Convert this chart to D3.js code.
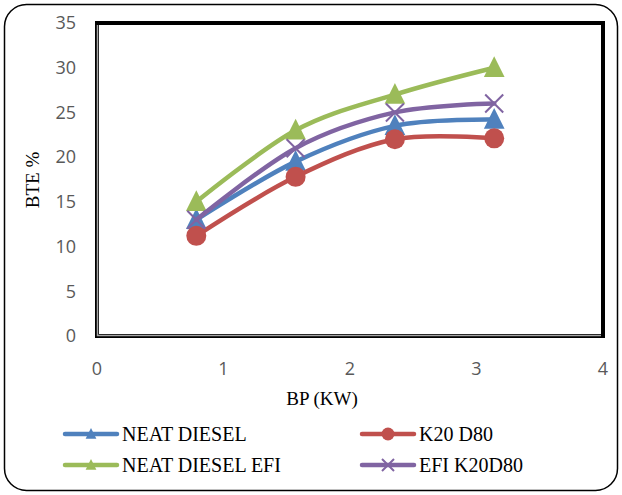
<!DOCTYPE html>
<html lang="en">
<head>
<meta charset="UTF-8">
<title>BTE vs BP</title>
<script src="https://d3js.org/d3.v7.min.js"></script>
<style>
  body { margin: 0; background: #fff; }
  .tick-label { font-family: 'Open Sans', 'Liberation Sans', sans-serif; font-size: 18px; fill: #595959; }
  .axis-title { font-family: 'Liberation Serif', 'DejaVu Serif', serif; font-size: 19px; fill: #000; }
  .legend-text { font-family: 'Liberation Serif', 'DejaVu Serif', serif; font-size: 20px; fill: #000; }
</style>
</head>
<body>
<svg id="chart" width="622" height="495"></svg>
<script>
  // data
  const bp = [0.785, 1.57, 2.355, 3.14];
  const neatDiesel = [13.0, 19.5, 23.5, 24.2];
  const k20d80 = [11.2, 17.8, 22.0, 22.1];
  const neatDieselEfi = [15.0, 23.0, 27.0, 30.0];
  const efiK20d80 = [13.0, 21.0, 25.0, 26.0];
  const xTicks = [0, 1, 2, 3, 4];
  const yTicks = [0, 5, 10, 15, 20, 25, 30, 35];

  const series = [
    { name: "NEAT DIESEL", values: neatDiesel, color: "#4F81BD", marker: "triangle" },
    { name: "K20 D80", values: k20d80, color: "#C0504D", marker: "circle" },
    { name: "NEAT DIESEL EFI", values: neatDieselEfi, color: "#9BBB59", marker: "triangle" },
    { name: "EFI K20D80", values: efiK20d80, color: "#8064A2", marker: "cross" }
  ];

  const svg = d3.select("#chart");

  // outer rounded frame
  svg.append("rect")
    .attr("x", 4.5).attr("y", 4.5)
    .attr("width", 613).attr("height", 486)
    .attr("rx", 22)
    .attr("fill", "#fff")
    .attr("stroke", "#000")
    .attr("stroke-width", 1.5);

  const x = d3.scaleLinear().domain([0, 4]).range([97, 603]);
  const y = d3.scaleLinear().domain([0, 35]).range([336, 23]);

  // plot box: thick black border with grey inner edge on left/bottom
  svg.append("rect")
    .attr("x", x(0)).attr("y", y(35))
    .attr("width", x(4) - x(0)).attr("height", y(0) - y(35))
    .attr("fill", "none")
    .attr("stroke", "#000")
    .attr("stroke-width", 4);
  svg.append("path")
    .attr("d", `M${x(0) + 0.5},${y(35) + 2} V${y(0) - 0.5} H${x(4) - 2}`)
    .attr("fill", "none")
    .attr("stroke", "#a6a6a6")
    .attr("stroke-width", 1.5);

  // tick labels
  svg.selectAll(".ylab").data(yTicks).enter().append("text")
    .attr("class", "tick-label")
    .attr("x", 76)
    .attr("y", d => y(d))
    .attr("dy", "0.35em")
    .attr("text-anchor", "end")
    .text(d => d);

  svg.selectAll(".xlab").data(xTicks).enter().append("text")
    .attr("class", "tick-label")
    .attr("x", d => x(d))
    .attr("y", 375)
    .attr("text-anchor", "middle")
    .text(d => d);

  // axis titles
  svg.append("text")
    .attr("class", "axis-title")
    .attr("x", 322).attr("y", 405)
    .attr("text-anchor", "middle")
    .text("BP (KW)");

  svg.append("text")
    .attr("class", "axis-title")
    .attr("transform", "translate(39,180) rotate(-90)")
    .attr("text-anchor", "middle")
    .text("BTE %");

  const line = d3.line()
    .x(d => x(d[0]))
    .y(d => y(d[1]))
    .curve(d3.curveCardinal.tension(0));

  function drawMarker(g, type, color, cx, cy, s) {
    if (type === "triangle") {
      g.append("path")
        .attr("d", `M${cx},${cy - s} L${cx + s * 0.9},${cy + s * 0.8} L${cx - s * 0.9},${cy + s * 0.8} Z`)
        .attr("fill", color);
    } else if (type === "circle") {
      g.append("circle").attr("cx", cx).attr("cy", cy).attr("r", s).attr("fill", color);
    } else {
      g.append("path")
        .attr("d", `M${cx - s},${cy - s} L${cx + s},${cy + s} M${cx - s},${cy + s} L${cx + s},${cy - s}`)
        .attr("stroke", color)
        .attr("stroke-width", 2);
    }
  }

  const markerSize = { triangle: 11.5, circle: 10, cross: 9 };

  series.forEach(s => {
    const pts = bp.map((b, i) => [b, s.values[i]]);
    const g = svg.append("g");
    g.append("path")
      .attr("d", line(pts))
      .attr("fill", "none")
      .attr("stroke", s.color)
      .attr("stroke-width", 4.5)
      .attr("stroke-linecap", "round");
    pts.forEach(p => drawMarker(g, s.marker, s.color, x(p[0]), y(p[1]), markerSize[s.marker]));
  });

  // legend
  const legendPos = [[65, 434], [362, 434], [65, 465], [362, 465]];
  series.forEach((s, i) => {
    const [lx, ly] = legendPos[i];
    const g = svg.append("g");
    g.append("line")
      .attr("x1", lx).attr("x2", lx + 52)
      .attr("y1", ly).attr("y2", ly)
      .attr("stroke", s.color)
      .attr("stroke-width", 4.5)
      .attr("stroke-linecap", "round");
    drawMarker(g, s.marker, s.color, lx + 26, ly, s.marker === "circle" ? 6.5 : 6);
    g.append("text")
      .attr("class", "legend-text")
      .attr("x", lx + 57).attr("y", ly)
      .attr("dy", "0.35em")
      .text(s.name);
  });
</script>
</body>
</html>
